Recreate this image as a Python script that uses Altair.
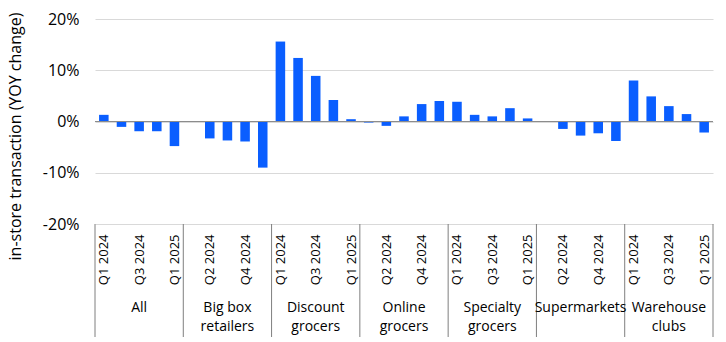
import altair as alt
import pandas as pd

groups = ["All", "Big box retailers", "Discount grocers", "Online grocers",
          "Specialty grocers", "Supermarkets", "Warehouse clubs"]
group_labels = ["All", "Big box\nretailers", "Discount\ngrocers", "Online\ngrocers",
                "Specialty\ngrocers", "Supermarkets", "Warehouse\nclubs"]
quarters = ["Q1 2024", "Q2 2024", "Q3 2024", "Q4 2024", "Q1 2025"]

all_vals = [1.3, -1.05, -1.9, -1.9, -4.8]
bigbox_vals = [-0.05, -3.3, -3.7, -3.9, -9.0]
discount_vals = [15.6, 12.4, 8.9, 4.2, 0.45]
online_vals = [-0.2, -0.85, 1.0, 3.4, 4.0]
specialty_vals = [3.85, 1.3, 1.0, 2.6, 0.6]
supermarket_vals = [-0.05, -1.45, -2.75, -2.3, -3.8]
warehouse_vals = [8.0, 4.9, 3.0, 1.45, -2.15]

series = [all_vals, bigbox_vals, discount_vals, online_vals,
          specialty_vals, supermarket_vals, warehouse_vals]

rows = []
for gi, (g, vals) in enumerate(zip(groups, series)):
    for qi, (q, v) in enumerate(zip(quarters, vals)):
        rows.append({"idx": gi * 5 + qi, "group": g, "quarter": q, "value": v})
df = pd.DataFrame(rows)

grp_df = pd.DataFrame({
    "group": groups,
    "label": group_labels,
    "mid": [gi * 5 + 2 for gi in range(len(groups))],
    "start": [gi * 5 - 0.5 for gi in range(len(groups))],
})
bounds_df = pd.DataFrame({"b": list(grp_df["start"]) + [len(groups) * 5 - 0.5]})

W, H = 618, 205
FONT = "Open Sans"
BLUE = "#0A5EFF"

n = len(df)
xscale = alt.Scale(domain=[-0.5, n - 0.5], nice=False, zero=False)
yscale = alt.Scale(domain=[-20, 20], nice=False)
qarr = "[" + ",".join("'%s'" % q for q in quarters) + "]"

x_axis = alt.Axis(
    values=list(range(0, n, 2)),
    labelExpr=qarr + "[datum.value % 5]",
    labelAngle=270, labelAlign="right", labelBaseline="middle",
    labelPadding=10, ticks=False, domain=False, grid=False, title=None,
    labelOverlap=False, labelFlush=False, labelBound=False,
    labelFontSize=13, labelColor="#000000", labelFont=FONT,
)

y_axis = alt.Axis(values=[-20, -10, 0, 10, 20],
                  labelExpr="datum.value + '%'",
                  title="in-store transaction (YOY change)",
                  titleFontSize=16, titleFont=FONT, titleFontWeight="normal",
                  titleColor="#000000",
                  titleX=-80, titleY=117, titleAngle=270,
                  titleAlign="center", titleBaseline="middle",
                  labelFontSize=16, labelFont=FONT, labelColor="#000000",
                  labelPadding=16, ticks=False, domain=False,
                  labelOverlap=False, labelFlush=False, labelBound=False,
                  grid=True, gridColor="#d9d9d9", gridWidth=1)

bars = alt.Chart(df).transform_calculate(
    x0="datum.idx - 0.27", x1="datum.idx + 0.27"
).mark_bar(color=BLUE).encode(
    x=alt.X("x0:Q", scale=xscale, axis=x_axis),
    x2="x1:Q",
    y=alt.Y("value:Q", scale=yscale, axis=y_axis),
    y2=alt.datum(0),
)

zero = alt.Chart(df).mark_rule(color="#8c8c8c", strokeWidth=1).encode(
    y=alt.Y(datum=0, scale=yscale, axis=y_axis)
).transform_filter("datum.idx == 0")

dividers = alt.Chart(bounds_df).mark_rule(color="#7f7f7f", strokeWidth=1).encode(
    x=alt.X("b:Q", scale=xscale, axis=x_axis),
    y=alt.value(H),
    y2=alt.value(H + 113),
)

glabels = alt.Chart(grp_df).mark_text(
    font=FONT, fontSize=14, color="#000000", lineBreak="\n",
    baseline="middle", align="center", lineHeight=19,
).encode(
    x=alt.X("mid:Q", scale=xscale, axis=x_axis),
    y=alt.value(H + 84),
    text="label:N",
)

chart = alt.layer(bars, zero, dividers, glabels).properties(
    width=W, height=H,
    background="#ffffff",
    autosize=alt.AutoSizeParams(type="none"),
    padding={"left": 95, "top": 19, "right": 13, "bottom": 118},
).configure_view(stroke=None)

chart.save("out.html", embed_options={"renderer": "svg", "actions": False})
